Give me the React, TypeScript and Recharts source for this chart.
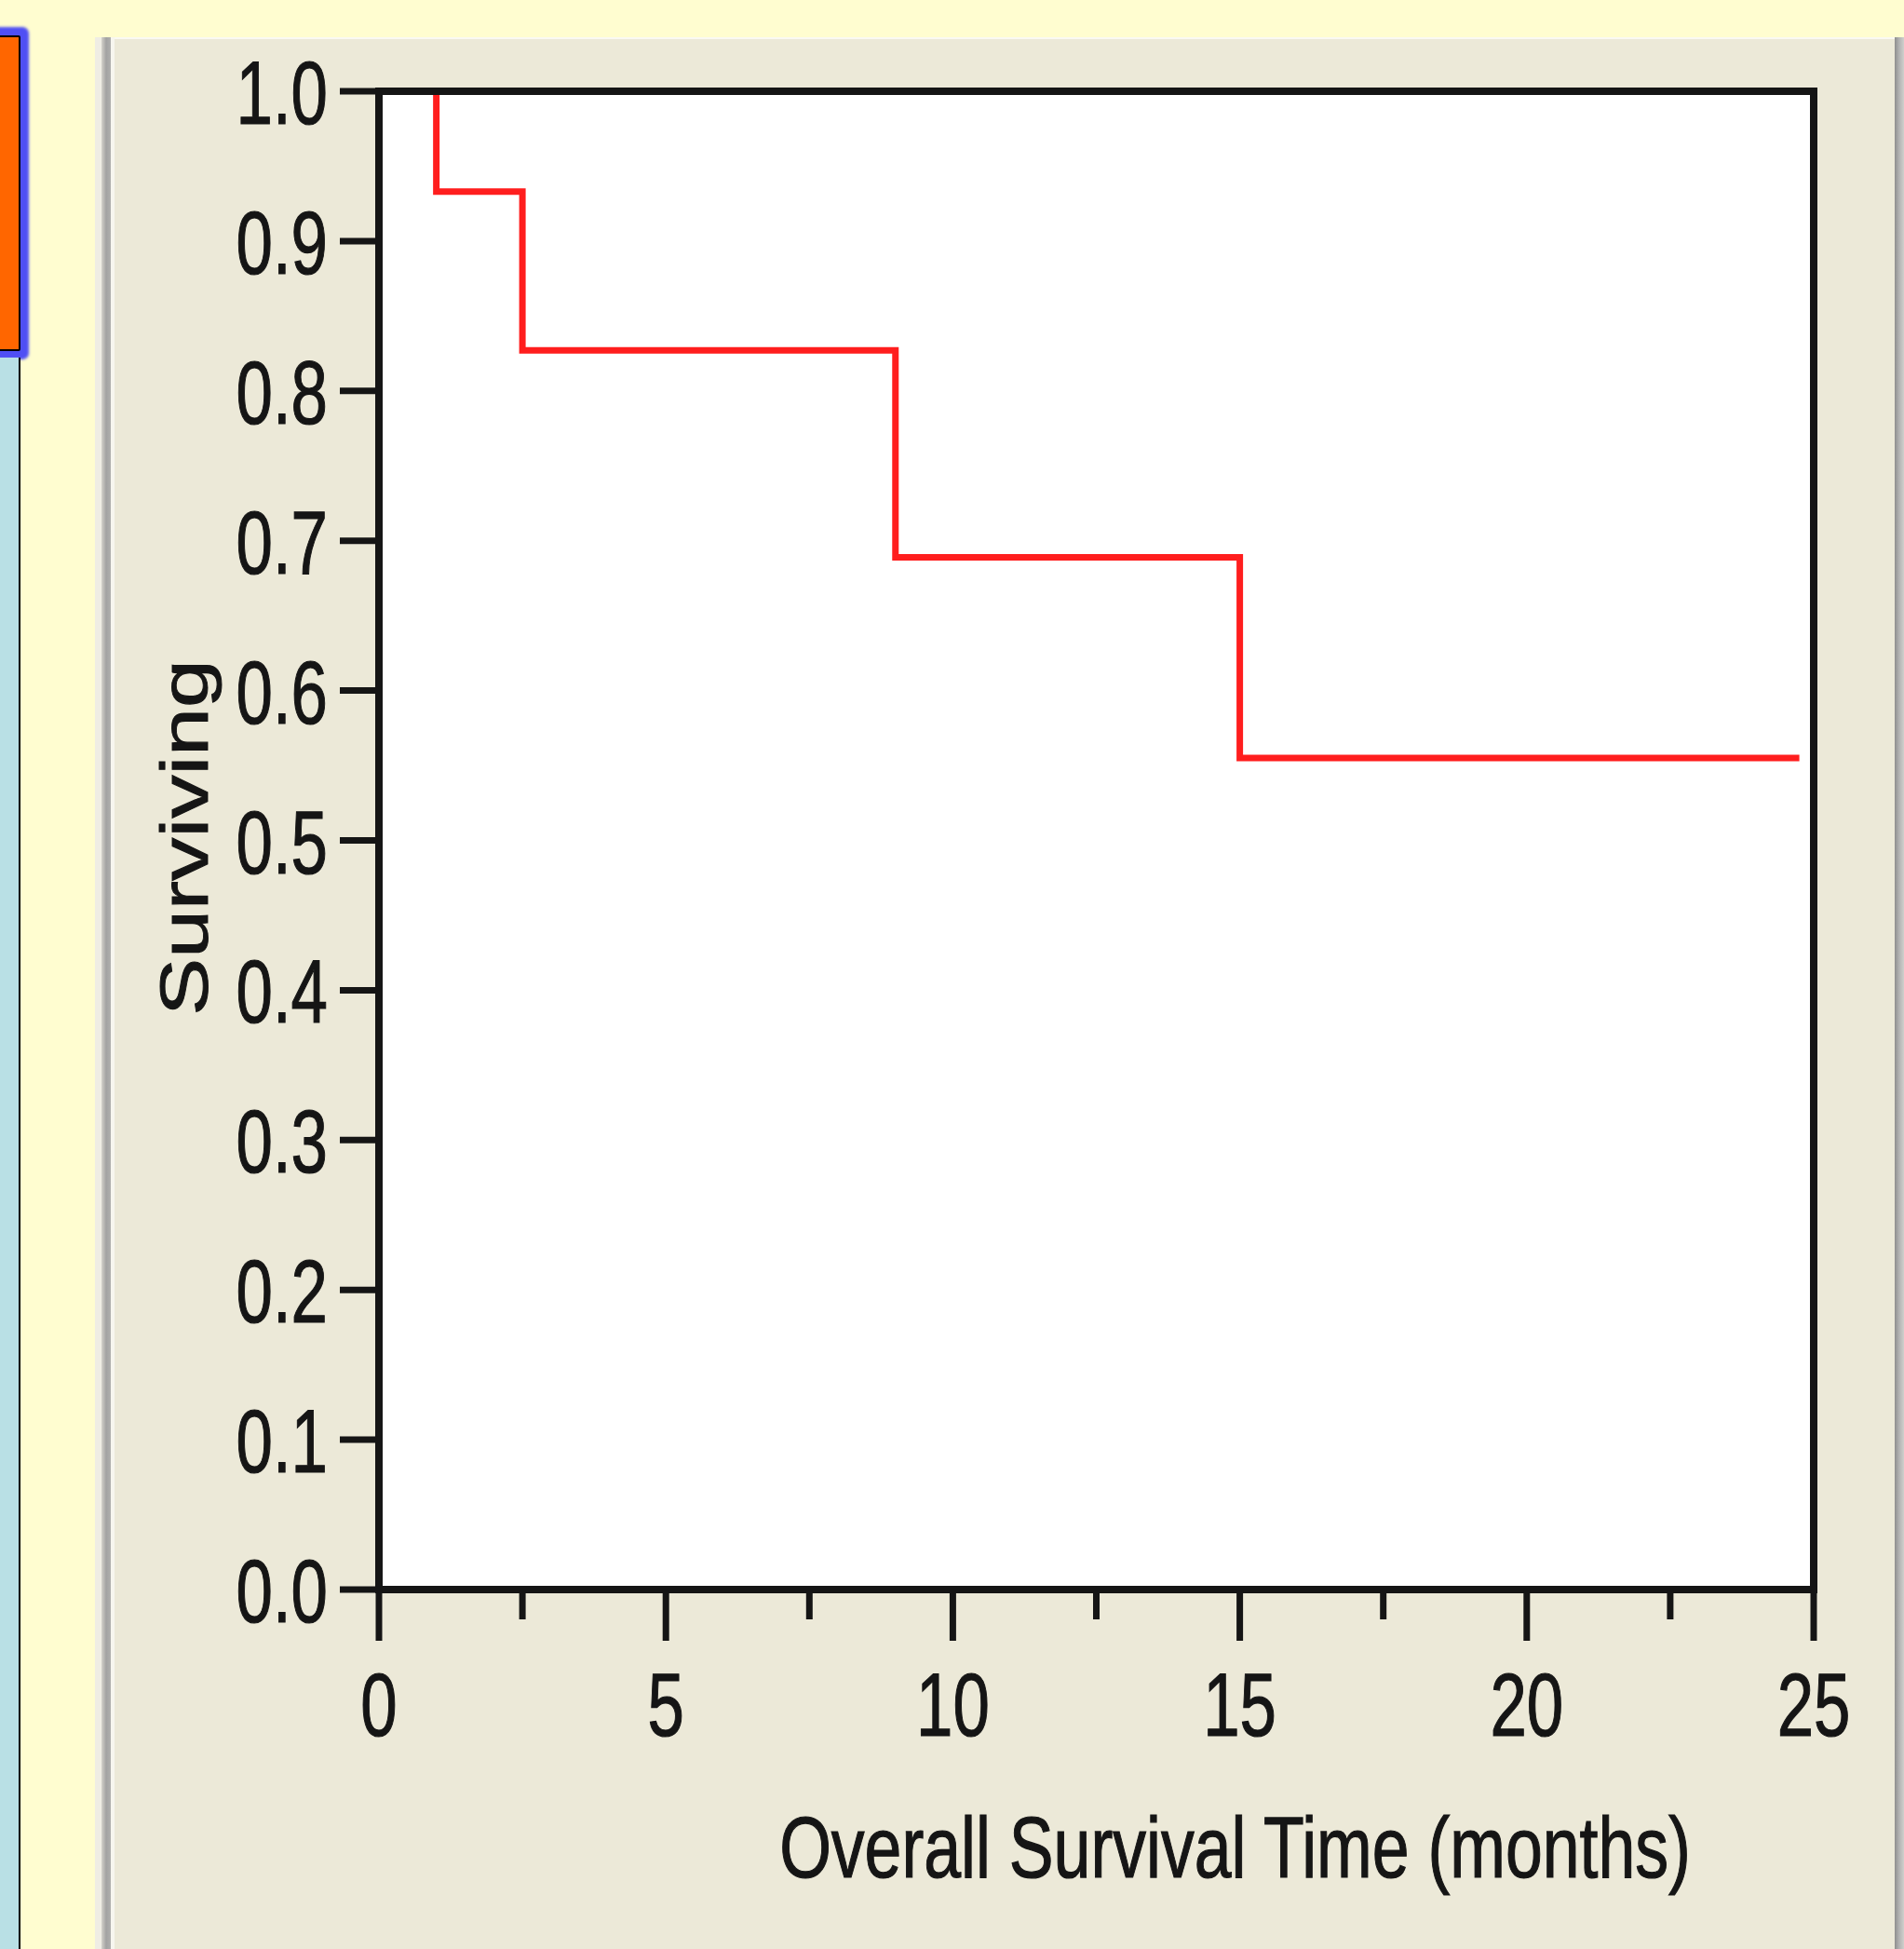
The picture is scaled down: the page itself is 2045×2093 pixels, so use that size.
import { LineChart, Line, XAxis, YAxis, CartesianGrid, Label } from "recharts";

// Kaplan-Meier style survival curve
const months = [0, 1, 2.5, 9, 15, 24.75];
const surviving = [1.0, 0.933, 0.827, 0.689, 0.555, 0.555];
const xTicks = [0, 2.5, 5, 7.5, 10, 12.5, 15, 17.5, 20, 22.5, 25];
const yTicks = [0, 0.1, 0.2, 0.3, 0.4, 0.5, 0.6, 0.7, 0.8, 0.9, 1.0];

const data = months.map((m, i) => ({ months: m, surviving: surviving[i] }));

const FONT = '"Liberation Sans", Arial, sans-serif';
const INK = "#151515";
const frame = { stroke: INK, strokeWidth: 8, strokeLinecap: "square" as const };
// the source is a blurry upscaled screenshot, so text reads a bit heavier
const textStyle = { fontFamily: FONT, fill: INK, stroke: INK, strokeWidth: 1.2 };

const XTick = ({ x, y, payload }: any) => {
  const major = payload.value % 5 === 0;
  return (
    <g>
      <line x1={x} x2={x} y1={y} y2={y + (major ? 55 : 32)} stroke={INK} strokeWidth={7} />
      {major && (
        <text
          transform={`translate(${x},${y + 157}) scale(0.73,1)`}
          textAnchor="middle"
          fontSize={97}
          {...textStyle}
        >
          {payload.value}
        </text>
      )}
    </g>
  );
};

const YTick = ({ x, y, payload }: any) => (
  <g>
    <line x1={x - 42} x2={x} y1={y} y2={y} stroke={INK} strokeWidth={7} />
    <text
      transform={`translate(${x - 55},${y + 35}) scale(0.73,1)`}
      textAnchor="end"
      fontSize={97}
      {...textStyle}
    >
      {payload.value.toFixed(1)}
    </text>
  </g>
);

const YTitle = ({ viewBox }: any) => {
  const cx = viewBox.x + 16;
  const cy = viewBox.y + viewBox.height / 2 - 3;
  return (
    <text
      transform={`translate(${cx},${cy}) scale(0.78,1) rotate(-90)`}
      textAnchor="middle"
      fontSize={93}
      {...textStyle}
    >
      Surviving
    </text>
  );
};

const XTitle = ({ viewBox }: any) => {
  const cx = viewBox.x + viewBox.width / 2 + 149;
  const cy = viewBox.y + 309;
  return (
    <text
      transform={`translate(${cx},${cy}) scale(0.77,1)`}
      textAnchor="middle"
      fontSize={93}
      {...textStyle}
    >
      Overall Survival Time (months)
    </text>
  );
};

export default function App() {
  return (
    <div
      style={{
        position: "absolute",
        left: 0,
        top: 0,
        width: 2045,
        height: 2093,
        background: "#FFFDD0",
        overflow: "hidden",
      }}
    >
      {/* left side slide decoration */}
      <div
        style={{
          position: "absolute",
          left: -4,
          top: 38,
          width: 22,
          height: 335,
          background: "#FF6600",
          border: "2px solid #000",
          borderRadius: 2,
          boxShadow: "0 0 3px 9px #4f4ff4",
        }}
      />
      <div
        style={{
          position: "absolute",
          left: 0,
          top: 384,
          width: 20,
          height: 1716,
          background: "#B9E0E5",
          borderRight: "2px solid #000",
        }}
      />

      {/* beige panel */}
      <div
        style={{
          position: "absolute",
          left: 102,
          top: 40,
          width: 1941,
          height: 2060,
          background: "#ECE9D8",
          borderTop: "2px solid #FAF9F2",
        }}
      />
      <div style={{ position: "absolute", left: 102, top: 40, width: 7, height: 2060, background: "#EFEDE4" }} />
      <div
        style={{
          position: "absolute",
          left: 109,
          top: 40,
          width: 10,
          height: 2060,
          background: "linear-gradient(to right, #D4D2CB, #A2A2A2, #B0B0AE)",
        }}
      />
      <div style={{ position: "absolute", left: 119, top: 40, width: 4, height: 2060, background: "#F7F6EF" }} />
      <div
        style={{
          position: "absolute",
          left: 2035,
          top: 40,
          width: 10,
          height: 2060,
          background: "linear-gradient(to right, #8E8E8E, #B4B4B4, #D0D0CC)",
        }}
      />

      <div style={{ position: "absolute", left: 0, top: 0 }}>
        <LineChart
          width={2045}
          height={2093}
          data={data}
          margin={{ top: 97, right: 96, bottom: 266, left: 207 }}
        >
          <CartesianGrid horizontal={false} vertical={false} fill="#ffffff" stroke="none" />
          <Line
            type="stepAfter"
            dataKey="surviving"
            stroke="#FF1E1E"
            strokeWidth={7}
            dot={false}
            activeDot={false}
            isAnimationActive={false}
          />
          <XAxis
            dataKey="months"
            type="number"
            domain={[0, 25]}
            ticks={xTicks}
            interval={0}
            height={120}
            tickSize={0}
            tickMargin={0}
            tickLine={false}
            axisLine={frame}
            tick={<XTick />}
          >
            <Label content={<XTitle />} />
          </XAxis>
          <YAxis
            type="number"
            domain={[0, 1]}
            ticks={yTicks}
            interval={0}
            width={200}
            tickSize={0}
            tickMargin={0}
            tickLine={false}
            axisLine={frame}
            tick={<YTick />}
          >
            <Label content={<YTitle />} />
          </YAxis>
          <XAxis
            xAxisId="top"
            orientation="top"
            type="number"
            domain={[0, 25]}
            height={1}
            tick={false}
            tickLine={false}
            axisLine={frame}
          />
          <YAxis
            yAxisId="right"
            orientation="right"
            type="number"
            domain={[0, 1]}
            width={1}
            tick={false}
            tickLine={false}
            axisLine={frame}
          />
        </LineChart>
      </div>
    </div>
  );
}
